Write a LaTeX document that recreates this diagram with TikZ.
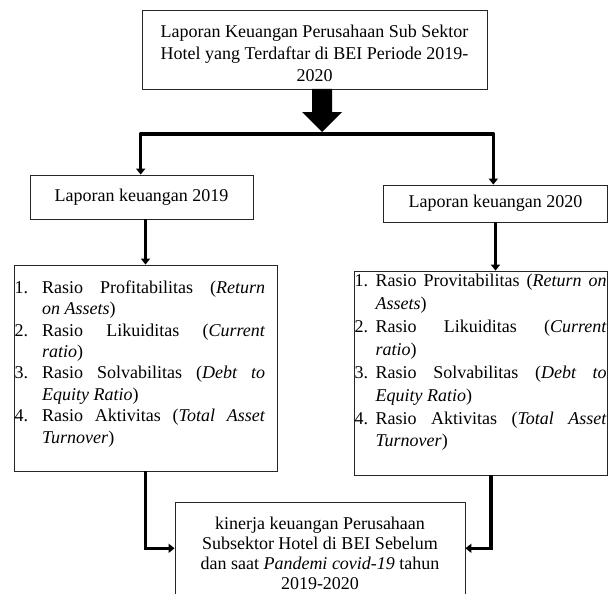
\documentclass[tikz,border=0pt]{standalone}
\usepackage{fontspec}
\setmainfont{Liberation Serif}
\usetikzlibrary{arrows.meta,calc}
\begin{document}
\begin{tikzpicture}[x=1pt,y=-1pt,
  box/.style={draw=black!85,line width=0.8pt,inner sep=0pt,fill=white},
  txt/.style={font=\fontsize{18}{22}\selectfont},
  conn/.style={line width=3.5pt,-{Triangle[length=6pt,width=9pt]}},
  bar/.style={line width=3.5pt,line cap=round}]
\useasboundingbox (0,0) rectangle (608,594);
\clip (0,0) rectangle (608,594);
% boxes
\node[box,txt,align=center,minimum width=345pt,minimum height=79pt] (top) at (314.5,49.5)
  {\rule{0pt}{20pt}Laporan Keuangan Perusahaan Sub Sektor\\Hotel yang Terdaftar di BEI Periode 2019-\\2020};
\node[box,txt,minimum width=223pt,minimum height=44pt] (l19) at (141.5,197) {Laporan keuangan 2019};
\node[box,txt,minimum width=224pt,minimum height=37pt] (r20) at (495.5,203.5) {Laporan keuangan 2020};
\node[box,minimum width=263pt,minimum height=206pt] (lbox) at (145.5,368) {};
\node[box,minimum width=253.5pt,minimum height=204pt] (rbox) at (480.75,373) {};
\node[font=\fontsize{18}{21.4}\selectfont,align=left,inner sep=0pt,anchor=north west] (ltext) at (14.5,280.5) {%
\makebox[27.5pt][l]{1.}\makebox[223pt][s]{Rasio Profitabilitas (\textit{Return}}\\
\hspace*{27.5pt}\textit{on Assets})\\
\makebox[27.5pt][l]{2.}\makebox[223pt][s]{Rasio Likuiditas (\textit{Current}}\\
\hspace*{27.5pt}\textit{ratio})\\
\makebox[27.5pt][l]{3.}\makebox[223pt][s]{Rasio Solvabilitas (\textit{Debt to}}\\
\hspace*{27.5pt}\textit{Equity Ratio})\\
\makebox[27.5pt][l]{4.}\makebox[223pt][s]{Rasio Aktivitas (\textit{Total Asset}}\\
\hspace*{27.5pt}\textit{Turnover})};
\node[font=\fontsize{18}{22.9}\selectfont,align=left,inner sep=0pt,anchor=north west] (rtext) at (354.5,274) {%
\makebox[21pt][l]{1.}\makebox[231pt][s]{Rasio Provitabilitas (\textit{Return on}}\\
\hspace*{21pt}\textit{Assets})\\
\makebox[21pt][l]{2.}\makebox[231pt][s]{Rasio Likuiditas (\textit{Current}}\\
\hspace*{21pt}\textit{ratio})\\
\makebox[21pt][l]{3.}\makebox[231pt][s]{Rasio Solvabilitas (\textit{Debt to}}\\
\hspace*{21pt}\textit{Equity Ratio})\\
\makebox[21pt][l]{4.}\makebox[231pt][s]{Rasio Aktivitas (\textit{Total Asset}}\\
\hspace*{21pt}\textit{Turnover})};
\node[box,font=\fontsize{18}{20.3}\selectfont,align=center,minimum width=290pt,minimum height=102.6pt] (bot) at (320,553.3)
  {kinerja keuangan Perusahaan\\Subsektor Hotel di BEI Sebelum\\dan saat \textit{Pandemi covid-19} tahun\\2019-2020};
% block arrow
\coordinate (ba) at (322,89);
\fill (ba) ++(-10,0) -- ++(0,23) -- ++(-10,0) -- (322,132) -- (342,112) -- (332,112) -- (332,89) -- cycle;
% split bar
\coordinate (hl) at (140.7,134);
\coordinate (hr) at (493.3,134);
\draw[bar] (hl) -- (hr);
\draw[conn] (hl) -- (hl |- l19.north);
\draw[conn] (hr) -- (hr |- r20.north);
% to lists
\draw[conn] (lbox.north |- l19.south) -- (lbox.north);
\draw[conn] (r20.south) -- (r20.south |- rbox.north);
% to bottom
\draw[conn] (lbox.south) |- ([yshift=5pt]bot.west);
\draw[conn] ([xshift=10pt]rbox.south) |- ([yshift=5pt]bot.east);
\end{tikzpicture}
\end{document}
